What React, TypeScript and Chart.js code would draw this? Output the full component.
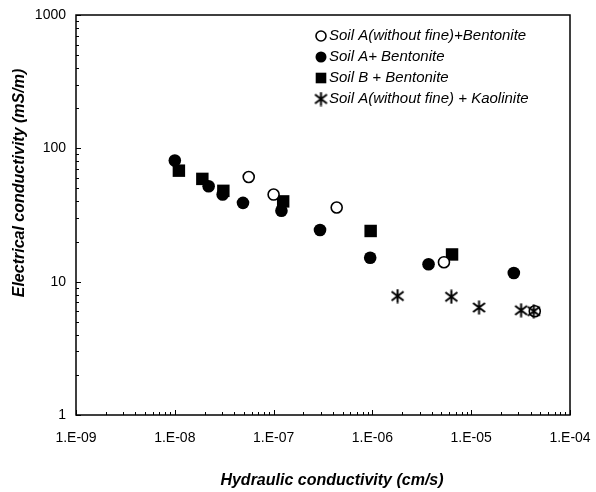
import React, { useEffect, useRef } from 'react';
import { Chart, registerables } from 'chart.js';
import { drawPoint } from 'chart.js/helpers';

Chart.register(...registerables);

// ---- data ----
const seriesLabels = [
  'Soil A(without fine)+Bentonite',
  'Soil A+ Bentonite',
  'Soil B + Bentonite',
  'Soil A(without fine) + Kaolinite',
];

const openK = [5.6e-8, 1.0e-7, 4.35e-7, 5.3e-6, 4.4e-5];
const openEC = [61, 45, 36, 14, 6.0];

const filledK = [1.0e-8, 2.2e-8, 3.05e-8, 4.9e-8, 1.2e-7, 2.95e-7, 9.5e-7, 3.7e-6, 2.7e-5];
const filledEC = [81, 52, 45, 39, 34, 24.4, 15.1, 13.5, 11.6];

const squareK = [1.1e-8, 1.9e-8, 3.1e-8, 1.25e-7, 9.6e-7, 6.4e-6];
const squareEC = [68, 59, 48, 40, 24, 16];

const starK = [1.8e-6, 6.3e-6, 1.2e-5, 3.2e-5, 4.3e-5];
const starEC = [7.8, 7.7, 6.4, 6.1, 6.0];

const xTickValues = [1e-9, 1e-8, 1e-7, 1e-6, 1e-5, 1e-4];
const xTickLabels = ['1.E-09', '1.E-08', '1.E-07', '1.E-06', '1.E-05', '1.E-04'];
const yTickValues = [1, 10, 100, 1000];
const yTickLabels = ['1', '10', '100', '1000'];

const xTitle = 'Hydraulic conductivity (cm/s)';
const yTitle = 'Electrical conductivity (mS/m)';

const FONT = '"Liberation Sans", Arial, Helvetica, sans-serif';

function makeAsterisk(size: number, lw: number) {
  const c = document.createElement('canvas');
  c.width = size;
  c.height = size;
  const g = c.getContext('2d')!;
  g.strokeStyle = '#000';
  g.lineWidth = lw;
  const h = size / 2;
  g.beginPath();
  g.moveTo(h, 0.5);
  g.lineTo(h, size - 0.5);
  g.moveTo(1.5, 3);
  g.lineTo(size - 1.5, size - 3);
  g.moveTo(1.5, size - 3);
  g.lineTo(size - 1.5, 3);
  g.stroke();
  return c;
}

const decorPlugin = {
  id: 'decor',
  afterDraw(chart: any) {
    const ctx = chart.ctx as CanvasRenderingContext2D;
    const area = chart.chartArea;
    const xs = chart.scales.x;
    const ys = chart.scales.y;
    ctx.save();
    // frame
    ctx.strokeStyle = '#000';
    ctx.lineWidth = 1.5;
    ctx.strokeRect(area.left, area.top, area.right - area.left, area.bottom - area.top);
    // inward ticks
    ctx.lineWidth = 1;
    ctx.beginPath();
    for (let i = 0; i < xTickValues.length; i++) {
      const base = xTickValues[i];
      for (let m = 1; m <= 9; m++) {
        const v = base * m;
        if (v > xTickValues[xTickValues.length - 1] * 1.0001) break;
        const px = Math.round(xs.getPixelForValue(v)) + 0.5;
        const len = m === 1 ? 5 : 3;
        ctx.moveTo(px, area.bottom);
        ctx.lineTo(px, area.bottom - len);
      }
    }
    for (let i = 0; i < yTickValues.length; i++) {
      const base = yTickValues[i];
      for (let m = 1; m <= 9; m++) {
        const v = base * m;
        if (v > yTickValues[yTickValues.length - 1] * 1.0001) break;
        const py = Math.round(ys.getPixelForValue(v)) + 0.5;
        const len = m === 1 ? 5 : 3;
        ctx.moveTo(area.left, py);
        ctx.lineTo(area.left + len, py);
      }
    }
    ctx.stroke();

    // axis titles
    ctx.fillStyle = '#000';
    ctx.font = `italic bold 16px ${FONT}`;
    ctx.textAlign = 'center';
    ctx.textBaseline = 'middle';
    ctx.fillText(xTitle, 332, 481);
    ctx.save();
    ctx.translate(20, 183);
    ctx.rotate(-Math.PI / 2);
    ctx.fillText(yTitle, 0, 0);
    ctx.restore();

    // legend inside the plot
    ctx.font = `italic 15px ${FONT}`;
    ctx.textAlign = 'left';
    const lx = 321;
    const ly = 36;
    const dy = 21;
    chart.data.datasets.forEach((ds: any, i: number) => {
      const y = ly + i * dy;
      ctx.fillStyle = ds.backgroundColor;
      ctx.strokeStyle = ds.borderColor;
      ctx.lineWidth = ds.borderWidth;
      drawPoint(ctx, {
        pointStyle: ds.pointStyle,
        radius: ds.legendRadius,
        borderWidth: ds.borderWidth,
        rotation: 0,
      } as any, lx, y);
      ctx.fillStyle = '#000';
      ctx.fillText(ds.label, lx + 8, y);
    });
    ctx.restore();
  },
};

export default function App() {
  const ref = useRef<HTMLCanvasElement | null>(null);

  useEffect(() => {
    if (!ref.current) return;
    const star = makeAsterisk(15, 2);
    const chart = new Chart(ref.current, {
      type: 'scatter',
      data: {
        datasets: [
          {
            label: seriesLabels[0],
            data: openK.map((x, i) => ({ x, y: openEC[i] })),
            pointStyle: 'circle',
            pointRadius: 5.5,
            backgroundColor: '#fff',
            borderColor: '#000',
            borderWidth: 1.6,
            order: 1,
            legendRadius: 5,
          } as any,
          {
            label: seriesLabels[1],
            data: filledK.map((x, i) => ({ x, y: filledEC[i] })),
            pointStyle: 'circle',
            pointRadius: 6.3,
            backgroundColor: '#000',
            borderColor: '#000',
            borderWidth: 0,
            order: 2,
            legendRadius: 5.5,
          } as any,
          {
            label: seriesLabels[2],
            data: squareK.map((x, i) => ({ x, y: squareEC[i] })),
            pointStyle: 'rect',
            pointRadius: 8.8,
            backgroundColor: '#000',
            borderColor: '#000',
            borderWidth: 0,
            order: 3,
            legendRadius: 7.5,
          } as any,
          {
            label: seriesLabels[3],
            data: starK.map((x, i) => ({ x, y: starEC[i] })),
            pointStyle: star,
            pointRadius: 7,
            backgroundColor: '#000',
            borderColor: '#000',
            borderWidth: 2,
            order: 0,
            legendRadius: 7,
          } as any,
        ],
      },
      options: {
        responsive: false,
        animation: false,
        layout: { padding: { left: 0, top: 15, right: 26, bottom: 0 }, autoPadding: false },
        plugins: {
          legend: { display: false },
          tooltip: { enabled: false },
          title: { display: false },
        },
        scales: {
          x: {
            type: 'logarithmic',
            min: 1e-9,
            max: 1e-4,
            grid: { display: false, drawTicks: false },
            border: { display: false },
            afterBuildTicks: (axis: any) => {
              axis.ticks = xTickValues.map((value) => ({ value }));
            },
            afterFit: (scale: any) => {
              scale.height = 77;
              scale.paddingLeft = 0;
              scale.paddingRight = 0;
            },
            ticks: {
              autoSkip: false,
              maxRotation: 0,
              padding: 15,
              color: '#000',
              font: { family: FONT, size: 14 },
              callback: (_v: any, index: number) => xTickLabels[index],
            },
          },
          y: {
            type: 'logarithmic',
            min: 1,
            max: 1000,
            grid: { display: false, drawTicks: false },
            border: { display: false },
            afterBuildTicks: (axis: any) => {
              axis.ticks = yTickValues.map((value) => ({ value }));
            },
            afterFit: (scale: any) => {
              scale.width = 76;
              scale.paddingTop = 0;
              scale.paddingBottom = 0;
            },
            ticks: {
              autoSkip: false,
              padding: 10,
              color: '#000',
              font: { family: FONT, size: 14 },
              callback: (_v: any, index: number) => yTickLabels[index],
            },
          },
        },
      },
      plugins: [decorPlugin],
    });
    return () => chart.destroy();
  }, []);

  return (
    <div style={{ position: 'absolute', left: 0, top: 0, width: 596, height: 492, background: '#fff' }}>
      <canvas ref={ref} width={596} height={492} />
    </div>
  );
}
